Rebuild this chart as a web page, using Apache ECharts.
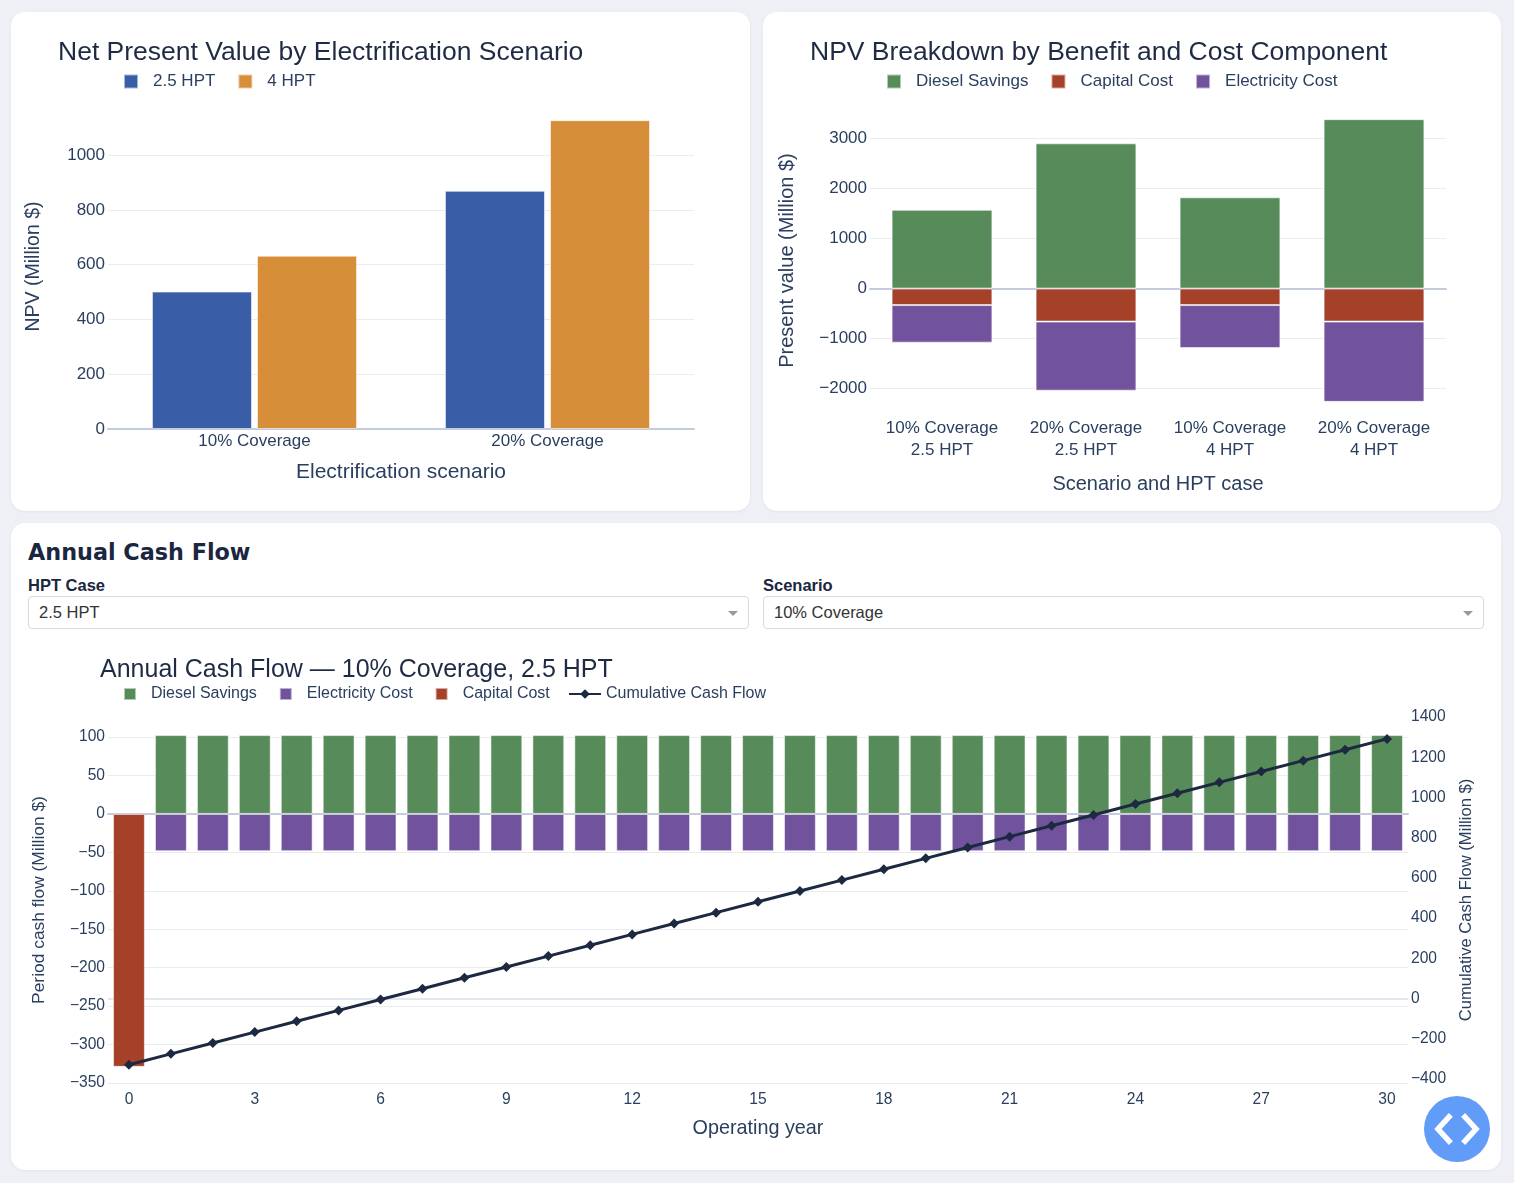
<!DOCTYPE html>
<html>
<head>
<meta charset="utf-8">
<title>Electrification NPV Dashboard</title>
<script src="https://cdn.jsdelivr.net/npm/echarts@6/dist/echarts.min.js"></script>
<style>
  html, body { margin: 0; padding: 0; }
  body {
    width: 1514px; height: 1183px; position: relative; overflow: hidden;
    background: #eef0f5; font-family: "Liberation Sans", Arial, sans-serif; color: #1f2b45;
  }
  .card { position: absolute; background: #fff; border-radius: 14px; box-shadow: 0 1px 3px rgba(20, 30, 60, 0.06); }
  .chart { position: absolute; }
  .heading {
    position: absolute; left: 28px; top: 537px; font-family: "DejaVu Sans", sans-serif;
    font-size: 22.3px; font-weight: 700; line-height: 30px; color: #1b2640;
  }
  .label { position: absolute; top: 575px; font-size: 16.5px; font-weight: 700; line-height: 20px; color: #1b2640; }
  .select {
    position: absolute; top: 596px; height: 33px; box-sizing: border-box;
    border: 1px solid #d6d9de; border-radius: 4px; background: #fff;
    font-size: 16.5px; line-height: 31px; padding-left: 10px; color: #333;
  }
  .select .arrow {
    position: absolute; right: 10px; top: 14px; width: 0; height: 0;
    border-left: 5px solid transparent; border-right: 5px solid transparent; border-top: 5px solid #9a9a9a;
  }
  .devbtn {
    position: absolute; left: 1424px; top: 1096px; width: 66px; height: 66px;
    border-radius: 50%; background: #619cf8;
  }
</style>
</head>
<body>
<div class="card" style="left:11px;top:12px;width:739px;height:499px;"></div>
<div class="card" style="left:763px;top:12px;width:738px;height:499px;"></div>
<div class="card" style="left:11px;top:523px;width:1490px;height:647px;"></div>

<div id="npv" class="chart" style="left:11px;top:12px;width:739px;height:499px;"></div>
<div id="breakdown" class="chart" style="left:763px;top:12px;width:738px;height:499px;"></div>

<div class="heading">Annual Cash Flow</div>
<div class="label" style="left:28px;">HPT Case</div>
<div class="select" style="left:28px;width:721px;">2.5 HPT<span class="arrow"></span></div>
<div class="label" style="left:763px;">Scenario</div>
<div class="select" style="left:763px;width:721px;">10% Coverage<span class="arrow"></span></div>

<div id="cashflow" class="chart" style="left:11px;top:640px;width:1490px;height:530px;"></div>

<div class="devbtn">
  <svg width="66" height="66" viewBox="0 0 66 66">
    <polyline points="25,21 14,33 25,45" fill="none" stroke="#fff" stroke-width="5.5" stroke-linecap="square"/>
    <polyline points="41,21 52,33 41,45" fill="none" stroke="#fff" stroke-width="5.5" stroke-linecap="square"/>
  </svg>
</div>

<script>
// ---- data ----
const scenarios = ['10% Coverage', '20% Coverage'];
const npv25 = [502, 870];
const npv4 = [633, 1128];

const breakdownCases = ['10% Coverage\n2.5 HPT', '20% Coverage\n2.5 HPT', '10% Coverage\n4 HPT', '20% Coverage\n4 HPT'];
const dieselPV = [1574, 2903, 1824, 3387];
const capitalPV = [-330, -660, -330, -660];
const electricityPV = [-751, -1381, -858, -1605];

const years = ['0', '1', '2', '3', '4', '5', '6', '7', '8', '9', '10', '11', '12', '13', '14', '15',
  '16', '17', '18', '19', '20', '21', '22', '23', '24', '25', '26', '27', '28', '29', '30'];
const dieselAnnual = [null, 102.5, 102.5, 102.5, 102.5, 102.5, 102.5, 102.5, 102.5, 102.5, 102.5,
  102.5, 102.5, 102.5, 102.5, 102.5, 102.5, 102.5, 102.5, 102.5, 102.5,
  102.5, 102.5, 102.5, 102.5, 102.5, 102.5, 102.5, 102.5, 102.5, 102.5];
const electricityAnnual = [null, -48.5, -48.5, -48.5, -48.5, -48.5, -48.5, -48.5, -48.5, -48.5, -48.5,
  -48.5, -48.5, -48.5, -48.5, -48.5, -48.5, -48.5, -48.5, -48.5, -48.5,
  -48.5, -48.5, -48.5, -48.5, -48.5, -48.5, -48.5, -48.5, -48.5, -48.5];
const capitalAnnual = [-329, null, null, null, null, null, null, null, null, null, null,
  null, null, null, null, null, null, null, null, null, null,
  null, null, null, null, null, null, null, null, null, null];
const cumulative = [-329, -275, -221, -167, -113, -59, -5, 49, 103, 157, 211, 265, 319, 373, 427, 481,
  535, 589, 643, 697, 751, 805, 859, 913, 967, 1021, 1075, 1129, 1183, 1237, 1291];

// ---- shared styling ----
const FONT = '"Liberation Sans", Arial, sans-serif';
const TEXT = '#2a3f5f';
const TITLE = '#1f2b45';
const GRID = '#e9edf3';
const ZERO = '#c3cbdc';
const colors = {
  blue: '#3a5da8', orange: '#d68f38',
  diesel: '#588b5a', capital: '#a54128', electricity: '#70539c', line: '#1c2940'
};
const barEdge = { borderColor: 'rgba(255,255,255,0.55)', borderWidth: 1 };
const minus = v => String(v).replace('-', '\u2212');

const title = (text, left, top, size) => ({
  text, left, top, padding: 0,
  textStyle: { fontFamily: FONT, fontSize: size, fontWeight: 'normal', color: TITLE }
});
const tick = size => ({ fontFamily: FONT, fontSize: size, color: TEXT });
const axisName = size => ({ fontFamily: FONT, fontSize: size, color: TEXT });

function legend(left, top, names, opts) {
  return Object.assign({
    left, top, data: names, padding: 0, itemWidth: 14, itemHeight: 14, itemGap: 22,
    selectedMode: false,
    textStyle: { fontFamily: FONT, fontSize: 17, color: TEXT, padding: [0, 0, 0, 10] }
  }, opts || {});
}

// ---- chart 1: NPV by scenario ----
const npvChart = echarts.init(document.getElementById('npv'));
npvChart.setOption({
  animation: false,
  title: title('Net Present Value by Electrification Scenario', 47, 27, 26.5),
  legend: legend(112, 61, [{ name: '2.5 HPT', icon: 'rect' }, { name: '4 HPT', icon: 'rect' }]),
  grid: { left: 97, top: 92, width: 586, height: 325, containLabel: false },
  xAxis: {
    type: 'category', data: scenarios,
    name: 'Electrification scenario', nameLocation: 'middle', nameGap: 33, nameTextStyle: axisName(21),
    axisTick: { show: false },
    axisLine: { lineStyle: { color: ZERO, width: 2 } },
    axisLabel: { ...tick(17), margin: 4 }
  },
  yAxis: {
    type: 'value', min: 0, max: 1187, interval: 200,
    name: 'NPV (Million $)', nameLocation: 'middle', nameGap: 64, nameTextStyle: axisName(19.5),
    axisLabel: { ...tick(17), margin: 3, showMaxLabel: false, formatter: v => String(v) },
    splitLine: { lineStyle: { color: GRID, width: 1 }, showMaxLine: false }
  },
  series: [
    { name: '2.5 HPT', type: 'bar', data: npv25, barGap: '5%', barCategoryGap: '30%',
      itemStyle: { color: colors.blue, ...barEdge } },
    { name: '4 HPT', type: 'bar', data: npv4, barGap: '5%', barCategoryGap: '30%',
      itemStyle: { color: colors.orange, ...barEdge } }
  ]
});

// ---- chart 2: NPV breakdown ----
const breakdownChart = echarts.init(document.getElementById('breakdown'));
breakdownChart.setOption({
  animation: false,
  title: title('NPV Breakdown by Benefit and Cost Component', 47, 27, 26.5),
  legend: legend(123, 61, [
    { name: 'Diesel Savings', icon: 'rect' },
    { name: 'Capital Cost', icon: 'rect' },
    { name: 'Electricity Cost', icon: 'rect' }
  ]),
  grid: { left: 107, top: 93, width: 576, height: 311, containLabel: false },
  xAxis: {
    type: 'category', data: breakdownCases,
    name: 'Scenario and HPT case', nameLocation: 'middle', nameGap: 58, nameTextStyle: axisName(20),
    axisTick: { show: false },
    axisLine: { lineStyle: { color: ZERO, width: 2 } },
    axisLabel: { ...tick(17), margin: 1, lineHeight: 22, interval: 0 }
  },
  yAxis: {
    type: 'value', min: -2548, max: 3670, splitNumber: 5,
    name: 'Present value (Million $)', nameLocation: 'middle', nameGap: 73, nameTextStyle: axisName(20),
    axisLabel: { ...tick(17), margin: 3, showMaxLabel: false, showMinLabel: false, formatter: minus },
    splitLine: { lineStyle: { color: GRID, width: 1 }, showMaxLine: false, showMinLine: false }
  },
  series: [
    { name: 'Diesel Savings', type: 'bar', stack: 'pv', data: dieselPV, barCategoryGap: '30%',
      itemStyle: { color: colors.diesel, ...barEdge } },
    { name: 'Capital Cost', type: 'bar', stack: 'pv', data: capitalPV,
      itemStyle: { color: colors.capital, ...barEdge } },
    { name: 'Electricity Cost', type: 'bar', stack: 'pv', data: electricityPV,
      itemStyle: { color: colors.electricity, ...barEdge } }
  ]
});

// ---- chart 3: annual cash flow ----
const bottomLegendText = { fontFamily: FONT, fontSize: 16, color: TEXT, padding: [0, 0, 0, 10] };
const cashChart = echarts.init(document.getElementById('cashflow'));
cashChart.setOption({
  animation: false,
  title: title('Annual Cash Flow \u2014 10% Coverage, 2.5 HPT', 89, 18, 25),
  legend: [
    legend(112, 46, [
      { name: 'Diesel Savings', icon: 'rect' },
      { name: 'Electricity Cost', icon: 'rect' },
      { name: 'Capital Cost', icon: 'rect' }
    ], { itemWidth: 12, itemHeight: 12, textStyle: bottomLegendText }),
    legend(557, 46, ['Cumulative Cash Flow'], {
      itemWidth: 32, itemHeight: 12, textStyle: { ...bottomLegendText, padding: 0 }
    })
  ],
  grid: { left: 97, top: 77, width: 1300, height: 366, containLabel: false },
  xAxis: {
    type: 'category', data: years,
    name: 'Operating year', nameLocation: 'middle', nameGap: 36, nameTextStyle: axisName(19.8),
    axisTick: { show: false },
    axisLine: { lineStyle: { color: ZERO, width: 2 } },
    axisLabel: { ...tick(15.6), margin: 9, interval: 2 }
  },
  yAxis: [
    {
      type: 'value', min: -350, max: 126, interval: 50,
      name: 'Period cash flow (Million $)', nameLocation: 'middle', nameGap: 60, nameTextStyle: axisName(17.4),
      axisLabel: { ...tick(15.6), margin: 3, showMaxLabel: false, formatter: minus },
      splitLine: { lineStyle: { color: GRID, width: 1 }, showMaxLine: false }
    },
    {
      type: 'value', min: -420, max: 1400, splitNumber: 9, position: 'right',
      name: 'Cumulative Cash Flow (Million $)', nameLocation: 'middle', nameGap: 50, nameTextStyle: axisName(16.6),
      axisLine: { show: false }, axisTick: { show: false },
      axisLabel: { ...tick(15.6), margin: 3, showMinLabel: false, formatter: minus },
      splitLine: { show: false }
    }
  ],
  series: [
    { name: 'Diesel Savings', type: 'bar', stack: 'cf', data: dieselAnnual, barCategoryGap: '24%',
      itemStyle: { color: colors.diesel, ...barEdge } },
    { name: 'Electricity Cost', type: 'bar', stack: 'cf', data: electricityAnnual,
      itemStyle: { color: colors.electricity, ...barEdge } },
    { name: 'Capital Cost', type: 'bar', stack: 'cf', data: capitalAnnual,
      itemStyle: { color: colors.capital, ...barEdge } },
    {
      name: 'Cumulative Cash Flow', type: 'line', yAxisIndex: 1, data: cumulative,
      symbol: 'diamond', symbolSize: 10, showAllSymbol: true,
      lineStyle: { color: colors.line, width: 3 }, itemStyle: { color: colors.line },
      z: 5
    },
    // zero line of the right axis, kept behind the bars
    {
      name: 'right-zero', type: 'line', yAxisIndex: 1, data: [], z: 1, silent: true,
      markLine: {
        z: 1, silent: true, symbol: 'none', label: { show: false }, animation: false,
        lineStyle: { color: '#e3e7ef', width: 2, type: 'solid' },
        data: [{ yAxis: 0 }]
      }
    }
  ]
});
</script>
</body>
</html>
